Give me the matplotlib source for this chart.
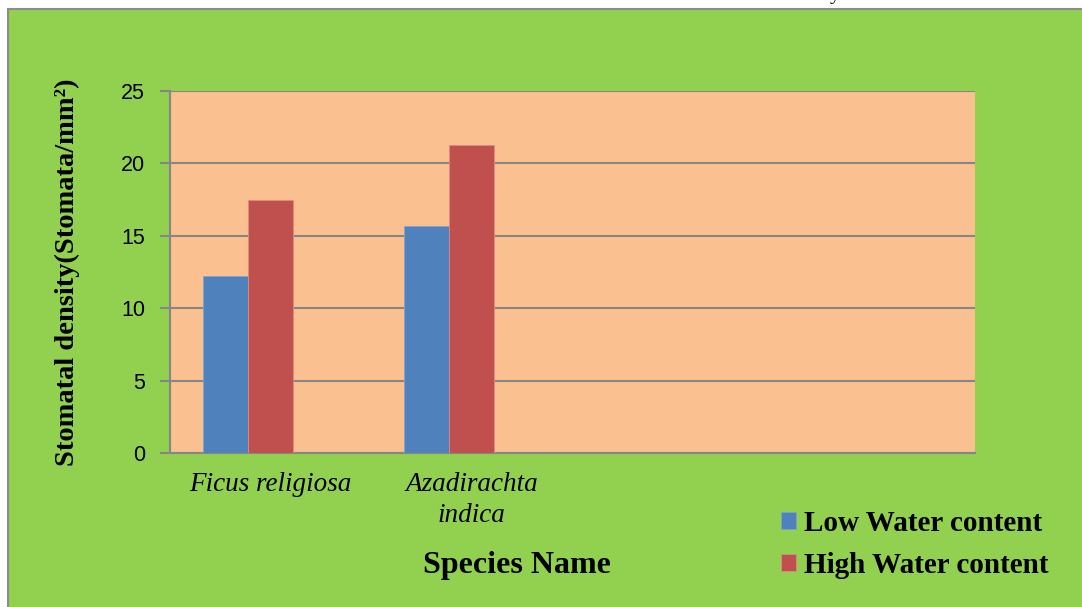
# -*- coding: utf-8 -*-

import numpy as np
import matplotlib.pyplot as plt
from matplotlib.patches import Rectangle

species = ['Ficus religiosa', 'Azadirachta\nindica', '', '']
low_water = [12.2, 15.7]
high_water = [17.5, 21.3]
series_names = ['Low Water content', 'High Water content']
y_ticks = [0, 5, 10, 15, 20, 25]

green = '#92D050'
orange = '#FAC090'
blue = '#4F81BD'
red = '#C0504D'
grey = '#868686'


def draw_chart():
    fig = plt.figure(figsize=(10.82, 6.07), dpi=100)
    fig.patch.set_facecolor('white')
    # green chart area with thin grey border
    fig.patches.append(Rectangle((8 / 1082, -0.01), 1.0, (607 - 9) / 607 + 0.01,
                                 transform=fig.transFigure, facecolor=green,
                                 edgecolor='#8C8C8C', linewidth=1.5, zorder=-5))
    # descender of the cut-off page text above the chart
    fig.text(835 / 1082, 1 + 1 / 607, 'y', fontsize=15,
             family='Liberation Serif', ha='center', va='baseline')

    ax = fig.add_axes([170 / 1082, 1 - 453 / 607, 805 / 1082, 362 / 607])
    ax.set_facecolor(orange)

    # three bar slots per category (third one empty in the source chart)
    x = np.arange(len(species))
    w = 0.224
    n = len(low_water)
    ax.bar(x[:n] - w, low_water, w, color=blue, edgecolor='#7FA3D0',
           linewidth=0.6, label=series_names[0], zorder=3)
    ax.bar(x[:n], high_water, w, color=red, edgecolor='#E08A86',
           linewidth=0.6, label=series_names[1], zorder=3)

    ax.set_xlim(-0.5, len(species) - 0.5)
    ax.set_ylim(0, 25)
    ax.set_yticks(y_ticks)
    ax.set_yticklabels([str(t) for t in y_ticks], fontsize=15.5,
                       family='Liberation Sans')
    ax.yaxis.grid(True, color=grey, linewidth=1.5, zorder=1)
    ax.set_axisbelow(True)

    ax.set_xticks(x)
    ax.set_xticklabels(species, fontsize=19.5, family='Liberation Serif',
                       style='italic', linespacing=1.3)
    ax.tick_params(axis='x', length=0, pad=14)
    ax.tick_params(axis='y', length=7, width=1.5, color=grey, pad=11)

    for s in ['top', 'right']:
        ax.spines[s].set_visible(False)
    for s in ['left', 'bottom']:
        ax.spines[s].set_color(grey)
        ax.spines[s].set_linewidth(1.5)

    ax.set_ylabel('Stomatal density(Stomata/mm²)', fontsize=20.5,
                  family='Liberation Serif', fontweight='bold')
    ax.yaxis.set_label_coords(-0.112, 0.5)
    fig.text(517 / 1082, 1 - 565 / 607, 'Species Name', fontsize=23,
             family='Liberation Serif', fontweight='bold',
             ha='center', va='center')

    fig.legend(loc='upper left', bbox_to_anchor=(755 / 1082, 1 - 484 / 607),
               frameon=False, handlelength=0.52, handleheight=0.52,
               handletextpad=0.25, labelspacing=0.5,
               prop={'family': 'Liberation Serif', 'weight': 'bold',
                     'size': 21})
    plt.savefig('out.png', dpi=100)
    plt.close('all')


if __name__ == "__main__":
    draw_chart()
